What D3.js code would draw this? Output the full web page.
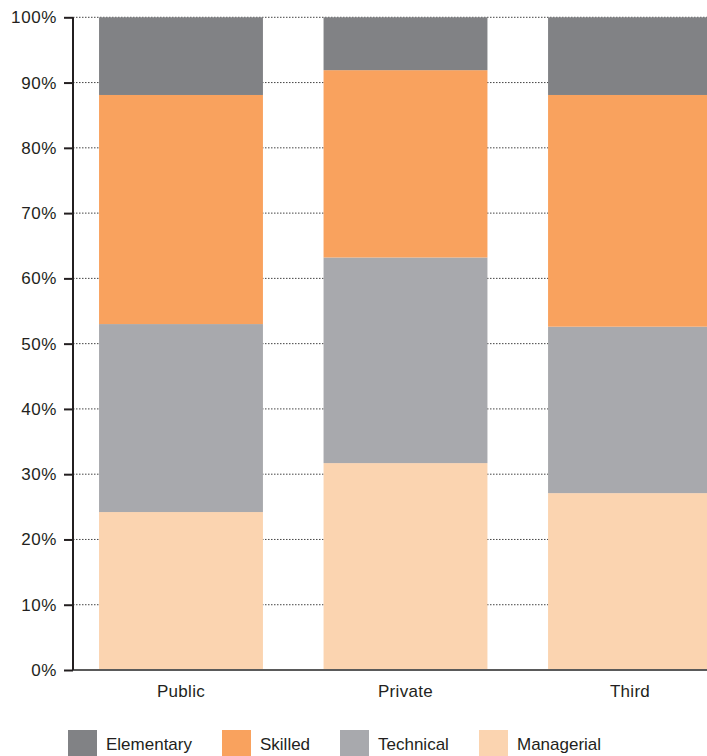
<!DOCTYPE html>
<html>
<head>
<meta charset="utf-8">
<script src="https://cdn.jsdelivr.net/npm/d3@7"></script>
<style>
  body { margin: 0; background: #fff; }
  svg { display: block; font-family: "Liberation Sans", Arial, sans-serif; }
  .tick-label, .cat-label, .legend-label { fill: #231f20; font-size: 17px; }
  .tick-label { letter-spacing: 0.6px; }
  .cat-label { letter-spacing: 0.3px; }
</style>
</head>
<body>
<svg id="chart" width="707" height="756"></svg>
<script>
// sectors and job categories
const sectors = ['Public', 'Private', 'Third']
const jobTypes = ['Managerial', 'Technical', 'Skilled', 'Elementary']
const colours = ['#fbd4b0', '#a8a9ad', '#f9a25e', '#818285']

// percentage of each sector's jobs, bottom to top
const managerial = [24.2, 31.7, 27.1]
const technical  = [28.8, 31.5, 25.5]
const skilled    = [35.1, 28.7, 35.5]
const elementary = [11.9, 8.1, 11.9]

const yTicks = [0, 10, 20, 30, 40, 50, 60, 70, 80, 90, 100]

const W = 707, H = 756
const axisX = 73, plotTop = 17.3, plotBottom = 670

let svg = d3.select('#chart')

let rows = sectors.map((s, i) => ({
  sector: s,
  Managerial: managerial[i],
  Technical: technical[i],
  Skilled: skilled[i],
  Elementary: elementary[i]
}))

let stack = d3.stack().keys(jobTypes)
let series = stack(rows)

let x = d3.scaleBand()
  .domain(sectors)
  .range([axisX, 738])
  .paddingInner(0.27)
  .paddingOuter(0.116)

let y = d3.scaleLinear()
  .domain([0, 100])
  .range([plotBottom, plotTop])

let colour = d3.scaleOrdinal().domain(jobTypes).range(colours)

// dotted gridlines behind the bars
svg.append('g').selectAll('line')
  .data(yTicks.filter(t => t > 0))
  .enter()
  .append('line')
  .attr('x1', axisX)
  .attr('x2', W)
  .attr('y1', d => y(d))
  .attr('y2', d => y(d))
  .attr('stroke', '#444')
  .attr('stroke-width', 1)
  .attr('stroke-dasharray', '1.5,1.5')

svg.append('g').selectAll('g')
  .data(series)
  .enter()
  .append('g')
  .attr('fill', d => colour(d.key))
  .selectAll('rect')
  .data(d => d)
  .enter()
  .append('rect')
  .attr('x', d => x(d.data.sector))
  .attr('width', x.bandwidth())
  .attr('y', d => y(d[1]))
  .attr('height', d => y(d[0]) - y(d[1]))

// baseline
svg.append('line')
  .attr('x1', axisX)
  .attr('x2', W)
  .attr('y1', y(0))
  .attr('y2', y(0))
  .attr('stroke', '#5a5a5a')
  .attr('stroke-width', 2)

// y axis
let yAxis = d3.axisLeft(y)
  .tickValues(yTicks)
  .tickFormat(d => d + '%')
  .tickSize(9)
  .tickPadding(7)

let yg = svg.append('g')
  .attr('transform', 'translate(' + axisX + ',0)')
  .call(yAxis)

yg.select('.domain')
  .attr('d', 'M0,' + plotTop + 'V' + y(0))
  .attr('stroke', '#231f20')
  .attr('stroke-width', 2)
yg.selectAll('.tick line').attr('stroke', '#231f20').attr('stroke-width', 2)
yg.selectAll('.tick text')
  .attr('class', 'tick-label')
  .attr('font-size', null)
  .attr('font-family', null)
yg.attr('font-size', null).attr('font-family', null)

// category labels
svg.append('g').selectAll('text')
  .data(sectors)
  .enter()
  .append('text')
  .attr('class', 'cat-label')
  .attr('x', d => x(d) + x.bandwidth() / 2)
  .attr('y', 697)
  .attr('text-anchor', 'middle')
  .text(d => d)

// legend, drawn in the reference order
let legendOrder = ['Elementary', 'Skilled', 'Technical', 'Managerial']
let legendX = [68, 222, 340, 479]

let legend = svg.append('g').selectAll('g')
  .data(legendOrder)
  .enter()
  .append('g')
  .attr('transform', (d, i) => 'translate(' + legendX[i] + ',730)')

legend.append('rect')
  .attr('width', 29)
  .attr('height', 29)
  .attr('fill', d => colour(d))

legend.append('text')
  .attr('class', 'legend-label')
  .attr('x', 38)
  .attr('y', 20)
  .text(d => d)
</script>
</body>
</html>
